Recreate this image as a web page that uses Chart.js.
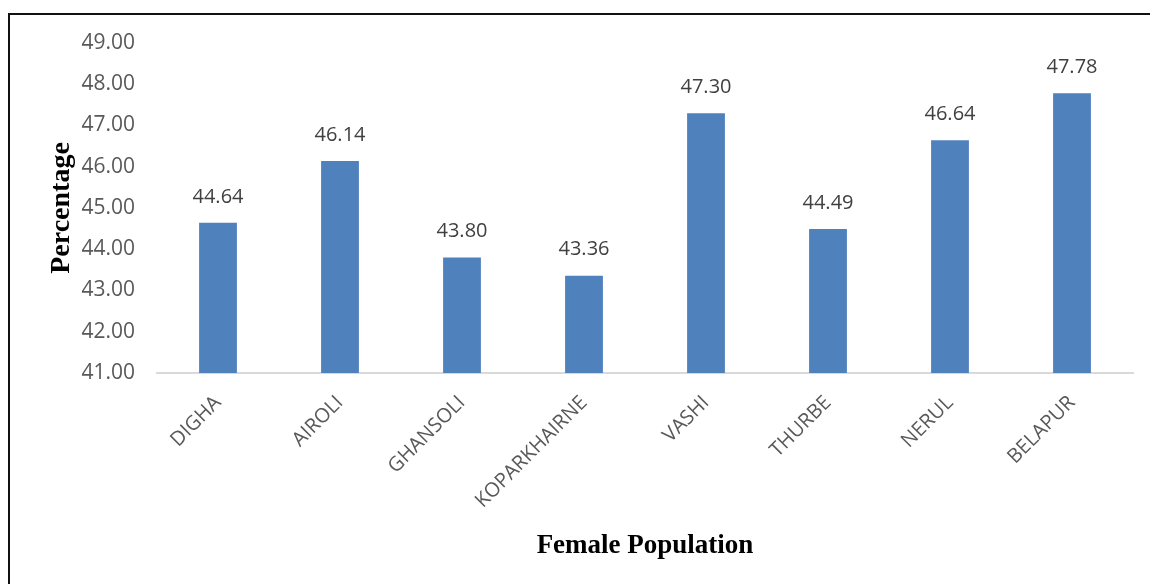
<!DOCTYPE html>
<html>
<head>
<meta charset="utf-8">
<script src="https://cdn.jsdelivr.net/npm/chart.js@4/dist/chart.umd.min.js"></script>
<style>
  html, body { margin: 0; padding: 0; background: #fff; }
  #wrap { position: relative; width: 1150px; height: 584px; overflow: hidden; }
  #frame { position: absolute; left: 8px; top: 13px; width: 1200px; height: 700px;
           border-left: 2px solid #111; border-top: 2px solid #111; pointer-events: none; }
  canvas { position: absolute; left: 0; top: 0; }
</style>
</head>
<body>
<div id="wrap">
  <canvas id="c" width="1150" height="584"></canvas>
  <div id="frame"></div>
</div>
<script>
const categories = ["DIGHA", "AIROLI", "GHANSOLI", "KOPARKHAIRNE", "VASHI", "THURBE", "NERUL", "BELAPUR"];
const femalePercentage = [44.64, 46.14, 43.80, 43.36, 47.30, 44.49, 46.64, 47.78];
const yMin = 41, yMax = 49, yStep = 1;
const xTitle = "Female Population";
const yTitle = "Percentage";

const valueLabels = {
  id: 'valueLabels',
  afterDatasetsDraw(chart) {
    const ctx = chart.ctx;
    const meta = chart.getDatasetMeta(0);
    ctx.save();
    ctx.font = '20px "Open Sans"';
    ctx.fillStyle = '#404040';
    ctx.textAlign = 'center';
    ctx.textBaseline = 'middle';
    meta.data.forEach((bar, i) => {
      ctx.fillText(femalePercentage[i].toFixed(2), bar.x, bar.y - 26);
    });
    ctx.restore();
  }
};

new Chart(document.getElementById('c'), {
  type: 'bar',
  data: {
    labels: categories,
    datasets: [{
      data: femalePercentage,
      backgroundColor: '#4f81bd',
      borderWidth: 0,
      barPercentage: 0.31,
      categoryPercentage: 1.0
    }]
  },
  options: {
    responsive: false,
    animation: false,
    devicePixelRatio: 1,
    layout: { padding: { left: 0, top: 43, right: 17, bottom: 0 } },
    plugins: { legend: { display: false }, tooltip: { enabled: false } },
    scales: {
      x: {
        grid: { display: false, drawTicks: false },
        border: { display: true, color: '#d9d9d9', width: 2 },
        ticks: {
          color: '#595959',
          font: { family: '"Open Sans"', size: 20 },
          minRotation: 45, maxRotation: 45,
          padding: 18
        },
        title: {
          display: true, text: xTitle, color: '#000',
          font: { family: '"Liberation Serif"', size: 27, weight: 'bold' },
          padding: { top: 0, bottom: 22 }
        },
        afterFit(s) { s.height = 211; s.paddingLeft = 0; s.paddingRight = 0; }
      },
      y: {
        min: yMin, max: yMax,
        grid: { display: false, drawTicks: false },
        border: { display: false },
        ticks: {
          stepSize: yStep,
          color: '#595959',
          font: { family: '"Open Sans"', size: 21 },
          padding: 22,
          callback: (v) => Number(v).toFixed(2)
        },
        title: {
          display: true, text: yTitle, color: '#000',
          font: { family: '"Liberation Serif"', size: 28, weight: 'bold' },
          padding: { top: 45, bottom: 0 }
        },
        afterFit(s) { s.width = 157; s.paddingTop = 0; s.paddingBottom = 0; }
      }
    }
  },
  plugins: [valueLabels]
});
</script>
</body>
</html>
